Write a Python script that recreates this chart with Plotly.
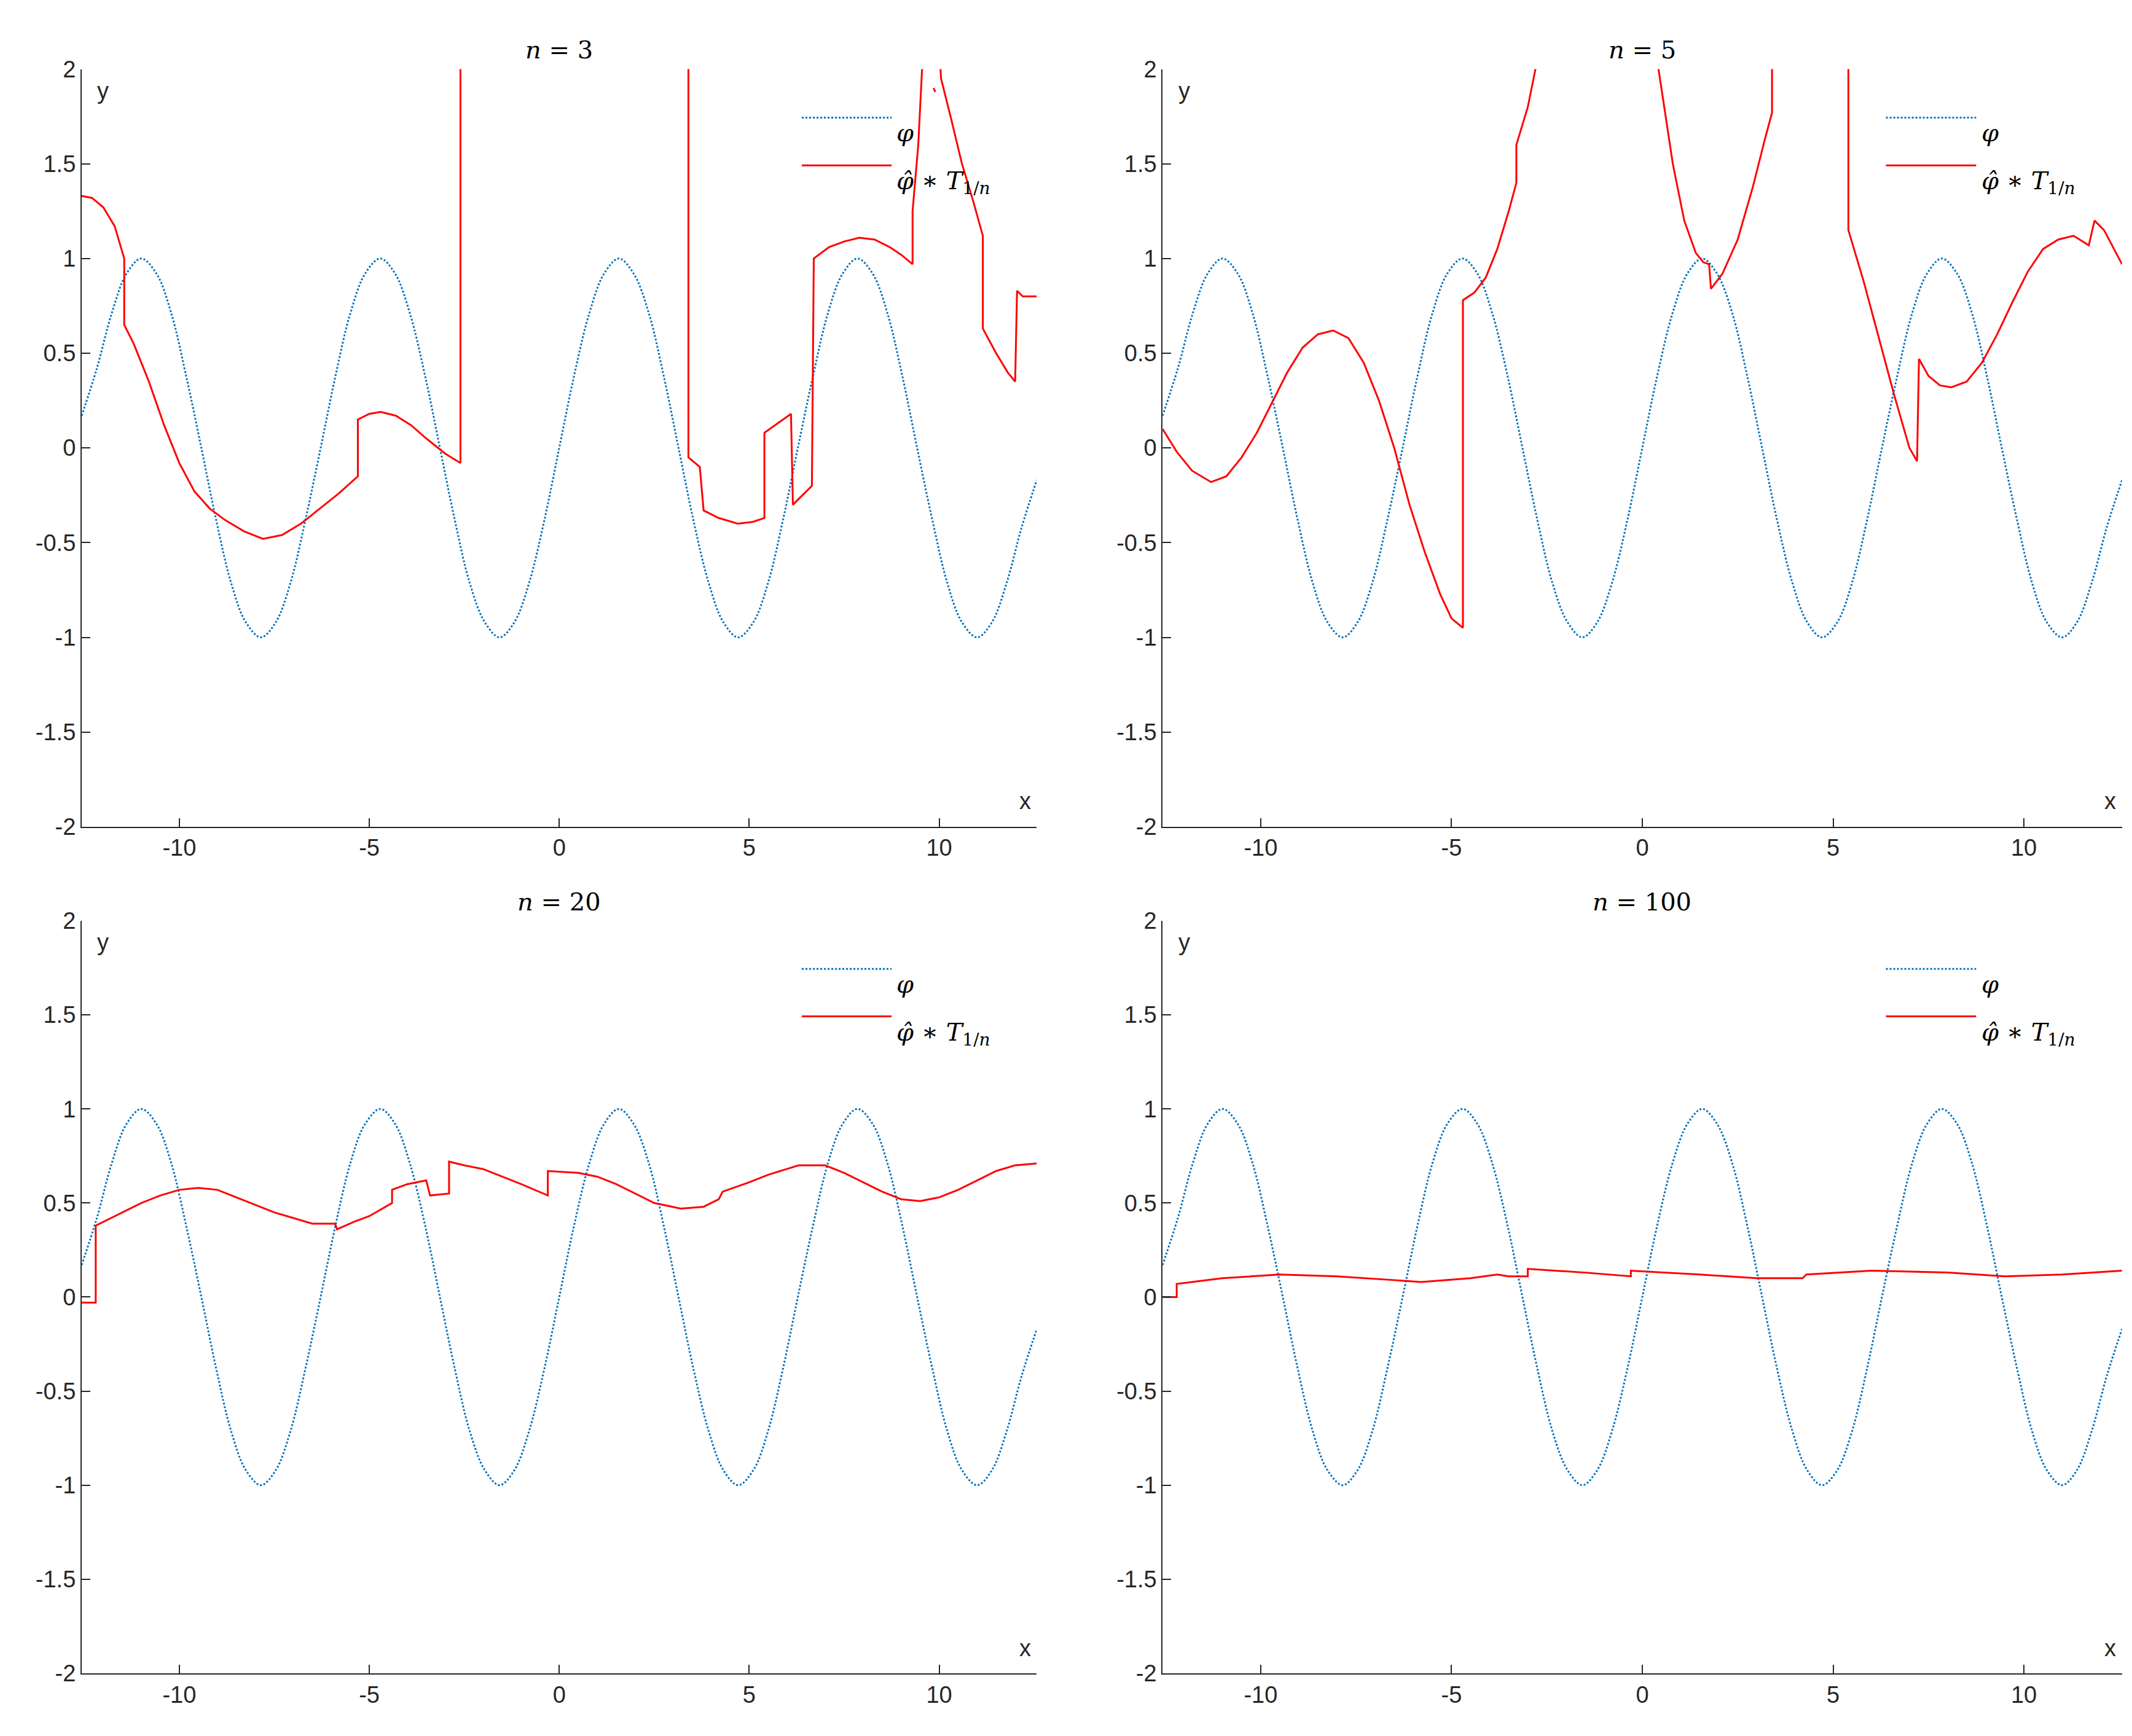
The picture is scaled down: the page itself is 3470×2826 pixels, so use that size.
import plotly.graph_objects as go
from plotly.subplots import make_subplots

phi_x = [-12.57,-12.17,-11.78,-11.39,-11.0,-10.60,-10.21,-9.82,-9.42,-9.03,-8.64,-8.25,-7.85,-7.46,-7.07,-6.68,
         -6.28,-5.89,-5.50,-5.11,-4.71,-4.32,-3.93,-3.53,-3.14,-2.75,-2.36,-1.96,-1.57,-1.18,-0.79,-0.39,
         0.0,0.39,0.79,1.18,1.57,1.96,2.36,2.75,3.14,3.53,3.93,4.32,4.71,5.11,5.50,5.89,
         6.28,6.68,7.07,7.46,7.85,8.25,8.64,9.03,9.42,9.82,10.21,10.60,11.0,11.39,11.78,12.17,12.57]
phi_y = [0.17,0.42,0.71,0.92,1.0,0.92,0.71,0.38,0.0,-0.38,-0.71,-0.92,-1.0,-0.92,-0.71,-0.38,
         0.0,0.38,0.71,0.92,1.0,0.92,0.71,0.38,0.0,-0.38,-0.71,-0.92,-1.0,-0.92,-0.71,-0.38,
         0.0,0.38,0.71,0.92,1.0,0.92,0.71,0.38,0.0,-0.38,-0.71,-0.92,-1.0,-0.92,-0.71,-0.38,
         0.0,0.38,0.71,0.92,1.0,0.92,0.71,0.38,0.0,-0.38,-0.71,-0.92,-1.0,-0.92,-0.71,-0.42,-0.17]

n3_x = [-12.57,-12.3,-12,-11.7,-11.45,-11.45,-11.2,-10.8,-10.4,-10,-9.6,-9.2,-8.8,-8.3,-7.8,-7.3,-6.8,-6.3,-5.8,-5.3,
        -5.3,-5,-4.7,-4.3,-3.9,-3.5,-3,-2.6,-2.6,-2.6,
        None,3.4,3.4,3.7,3.8,4.2,4.7,5.1,5.4,5.4,6.1,6.15,6.65,6.7,7.1,7.5,7.9,8.3,8.7,9.0,9.3,9.3,9.45,9.55,9.6,
        None,9.85,9.9,None,9.95,10.05,10.3,10.6,10.9,11.15,11.15,11.5,11.8,12.0,12.05,12.2,12.57]
n3_y = [1.33,1.32,1.27,1.17,1.0,0.65,0.55,0.35,0.12,-0.08,-0.23,-0.32,-0.38,-0.44,-0.48,-0.46,-0.4,-0.32,-0.24,-0.15,
        0.15,0.18,0.19,0.17,0.12,0.05,-0.03,-0.08,3,5,
        None,5,-0.05,-0.1,-0.33,-0.37,-0.4,-0.39,-0.37,0.08,0.18,-0.3,-0.2,1.0,1.06,1.09,1.11,1.1,1.06,1.02,0.97,1.25,1.6,2.0,2.3,
        None,1.9,1.88,None,2.3,1.95,1.75,1.5,1.3,1.12,0.63,0.5,0.4,0.35,0.83,0.8,0.8]

n5_x = [-12.57,-12.2,-11.8,-11.3,-10.9,-10.5,-10.1,-9.7,-9.3,-8.9,-8.5,-8.1,-7.7,-7.3,-6.9,-6.5,-6.1,-5.7,-5.3,-5.0,-4.7,
        -4.7,-4.4,-4.1,-3.8,-3.5,-3.3,-3.3,-3.0,-2.8,-2.5,
        None,0.2,0.5,0.8,1.1,1.4,1.6,1.75,1.8,2.1,2.5,2.9,3.2,3.4,3.4,
        None,5.4,5.4,5.8,6.2,6.6,7.0,7.2,7.25,7.5,7.8,8.1,8.5,8.9,9.3,9.7,10.1,10.5,10.9,11.3,11.7,11.85,12.1,12.57]
n5_y = [0.1,-0.02,-0.12,-0.18,-0.15,-0.05,0.08,0.24,0.4,0.53,0.6,0.62,0.58,0.45,0.25,0.0,-0.3,-0.55,-0.77,-0.9,-0.95,
        0.78,0.82,0.9,1.05,1.25,1.4,1.6,1.8,2.0,2.3,
        None,2.3,1.9,1.5,1.2,1.03,0.98,0.97,0.84,0.92,1.1,1.38,1.62,1.77,5,
        None,5,1.15,0.88,0.58,0.28,0.0,-0.07,0.47,0.38,0.33,0.32,0.35,0.45,0.6,0.77,0.93,1.05,1.1,1.12,1.07,1.2,1.15,0.97]

n20_x = [-12.57,-12.2,-12.2,-11.9,-11.5,-11,-10.5,-10,-9.5,-9,-8.5,-8,-7.5,-7,-6.5,-5.9,-5.85,-5.4,-5,-4.4,-4.4,-4,-3.5,-3.4,-2.9,-2.9,
         -2.5,-2,-1.5,-1,-0.3,-0.3,0.5,1,1.5,2,2.5,3.2,3.8,4.2,4.3,5,5.5,6.3,7,7.5,8,8.5,9,9.5,10,10.5,11,11.5,12,12.57]
n20_y = [-0.03,-0.03,0.38,0.41,0.45,0.5,0.54,0.57,0.58,0.57,0.53,0.49,0.45,0.42,0.39,0.39,0.36,0.4,0.43,0.5,0.57,0.6,0.62,0.54,0.55,0.72,
         0.7,0.68,0.64,0.6,0.54,0.67,0.66,0.64,0.6,0.55,0.5,0.47,0.48,0.52,0.56,0.61,0.65,0.7,0.7,0.66,0.61,0.56,0.52,0.51,0.53,0.57,0.62,0.67,0.7,0.71]

n100_x = [-12.57,-12.2,-12.2,-11,-9.5,-8,-6.5,-5.8,-4.5,-3.8,-3.5,-3,-3,-1.5,-0.3,-0.3,1.5,3,4.2,4.3,6,8,9.5,11,12.57]
n100_y = [0,0,0.07,0.1,0.12,0.11,0.09,0.08,0.1,0.12,0.11,0.11,0.15,0.13,0.11,0.14,0.12,0.1,0.1,0.12,0.14,0.13,0.11,0.12,0.14]

titles = ["3", "5", "20", "100"]
reds = [(n3_x, n3_y), (n5_x, n5_y), (n20_x, n20_y), (n100_x, n100_y)]

fig = make_subplots(rows=2, cols=2)
pos = [(1, 1), (1, 2), (2, 1), (2, 2)]
xdom = [[0.036, 0.484], [0.543, 0.993]]
ydom = [[0.527, 0.97], [0.032, 0.472]]
FONT = "Liberation Sans"
for i, (r, c) in enumerate(pos):
    fig.add_trace(go.Scatter(x=phi_x, y=phi_y, mode="lines", line=dict(color="#0072BD", width=3, dash="dot", shape="spline"),
                             showlegend=False), row=r, col=c)
    fig.add_trace(go.Scatter(x=reds[i][0], y=reds[i][1], mode="lines", line=dict(color="red", width=3),
                             showlegend=False, connectgaps=False), row=r, col=c)
    ax = "" if i == 0 else str(i + 1)
    fig.update_xaxes(row=r, col=c, range=[-12.57, 12.57], domain=xdom[c - 1], showline=True, linecolor="#262626",
                     linewidth=2, ticks="inside", ticklen=14, tickwidth=2, tickcolor="#262626", showgrid=False,
                     zeroline=False, tickvals=[-10, -5, 0, 5, 10], ticktext=["-10", "-5", "0", "5", "10"],
                     tickfont=dict(family=FONT, size=38, color="#262626"), mirror=False)
    fig.update_yaxes(row=r, col=c, range=[-2, 2], domain=ydom[r - 1], showline=True, linecolor="#262626",
                     linewidth=2, ticks="inside", ticklen=14, tickwidth=2, tickcolor="#262626", showgrid=False,
                     zeroline=False, tickvals=[-2, -1.5, -1, -0.5, 0, 0.5, 1, 1.5, 2],
                     ticktext=["-2", "-1.5", "-1", "-0.5", "0", "0.5", "1", "1.5", "2"],
                     tickfont=dict(family=FONT, size=38, color="#262626"))
    xr = "x" + ax + " domain"
    yr = "y" + ax + " domain"
    fig.add_annotation(xref=xr, yref=yr, x=0.5, y=1.005, yanchor="bottom", showarrow=False,
                       text="<i>n</i> = " + titles[i], font=dict(family="DejaVu Serif", size=40, color="black"))
    fig.add_annotation(xref=xr, yref=yr, x=0.995, y=0.015, xanchor="right", yanchor="bottom", showarrow=False,
                       text="x", font=dict(family=FONT, size=38, color="#262626"))
    fig.add_annotation(xref=xr, yref=yr, x=0.015, y=0.99, xanchor="left", yanchor="top", showarrow=False,
                       text="y", font=dict(family=FONT, size=38, color="#262626"))
    fig.add_shape(type="line", xref=xr, yref=yr, x0=0.754, x1=0.848, y0=0.936, y1=0.936,
                  line=dict(color="#0072BD", width=3, dash="dot"))
    fig.add_shape(type="line", xref=xr, yref=yr, x0=0.754, x1=0.848, y0=0.873, y1=0.873,
                  line=dict(color="red", width=3))
    fig.add_annotation(xref=xr, yref=yr, x=0.852, y=0.936, xanchor="left", showarrow=False,
                       text="<i>φ</i>", font=dict(family="DejaVu Serif", size=40, color="black"))
    fig.add_annotation(xref=xr, yref=yr, x=0.852, y=0.873, xanchor="left", showarrow=False,
                       text="<i>φ̂</i> ∗ <i>T</i><sub>1/<i>n</i></sub>", font=dict(family="DejaVu Serif", size=40, color="black"))

fig.update_layout(width=3470, height=2826, margin=dict(l=0, r=0, t=0, b=0),
                  paper_bgcolor="white", plot_bgcolor="white", showlegend=False)
fig.write_html("out.html")
